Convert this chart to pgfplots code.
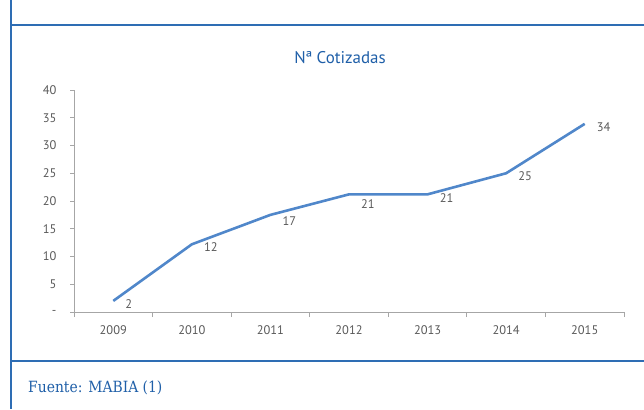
\documentclass[border=0pt]{standalone}
\usepackage{pgfplots}
\pgfplotsset{compat=1.18}
\usepackage{fontspec}
\setmainfont{PT Sans}
\newfontfamily\slabfont{DejaVu Serif Condensed}
\definecolor{frameblue}{HTML}{2E6DB4}
\definecolor{titleblue}{HTML}{1F5FA8}
\definecolor{linecol}{HTML}{5087CA}
\definecolor{axgray}{HTML}{A6A6A6}
\definecolor{txtgray}{HTML}{595959}
\begin{document}
\begin{tikzpicture}[x=1bp,y=1bp]
\path[use as bounding box] (0,0) rectangle (644,409);
\draw[frameblue, line width=1.3bp] (11,409) -- (11,0);
\draw[frameblue, line width=1.3bp] (11,384) -- (644,384);
\draw[frameblue, line width=1.3bp] (11,48) -- (644,48);
\node[anchor=base west, inner sep=0pt, text=titleblue, font=\slabfont\fontsize{15.5}{18}\selectfont] at (28,17) {Fuente: MABIA (1)};
\node[inner sep=0pt, text=titleblue, font=\fontsize{17}{20}\selectfont] at (340,351) {Nª Cotizadas};
\begin{axis}[
  at={(74bp,97bp)}, anchor=south west,
  scale only axis, width=550bp, height=222bp,
  xmin=-0.5, xmax=6.5, ymin=0, ymax=40,
  axis lines=left,
  axis line style={-, draw=axgray, line width=0.8bp},
  xtick={0,...,6},
  xticklabels={2009,2010,2011,2012,2013,2014,2015},
  minor xtick={-0.5,0.5,...,6.5},
  major x tick style={draw=none},
  minor x tick style={draw=axgray, line width=0.8bp},
  ytick={0,5,...,40},
  yticklabels={-,5,10,15,20,25,30,35,40},
  y tick style={draw=axgray, line width=0.8bp},
  tick align=outside,
  major tick length=4bp, minor tick length=5bp,
  tick label style={font=\fontsize{12.5}{14}\selectfont, text=txtgray},
  xticklabel style={yshift=-6bp},
  yticklabel style={xshift=-10bp},
  clip=false,
  lbl/.style={draw=none, mark=none, nodes near coords, point meta=explicit symbolic,
    every node near coord/.style={anchor=west, xshift=11bp, yshift=-#1, inner sep=1bp,
      font=\fontsize{12.5}{14}\selectfont, text=txtgray}},
]
\addplot[color=linecol, line width=2.6bp, mark=none]
  coordinates {(0,2) (1,12.2) (2,17.5) (3,21.2) (4,21.2) (5,25) (6,33.9)};
\addplot[lbl=3bp] coordinates {(0,2)[2] (1,12.2)[12] (5,25)[25] (6,33.9)[34]};
\addplot[lbl=6bp] coordinates {(2,17.5)[17]};
\addplot[lbl=10bp] coordinates {(3,21.2)[21]};
\addplot[lbl=4bp] coordinates {(4,21.2)[21]};
\end{axis}
\end{tikzpicture}
\end{document}
